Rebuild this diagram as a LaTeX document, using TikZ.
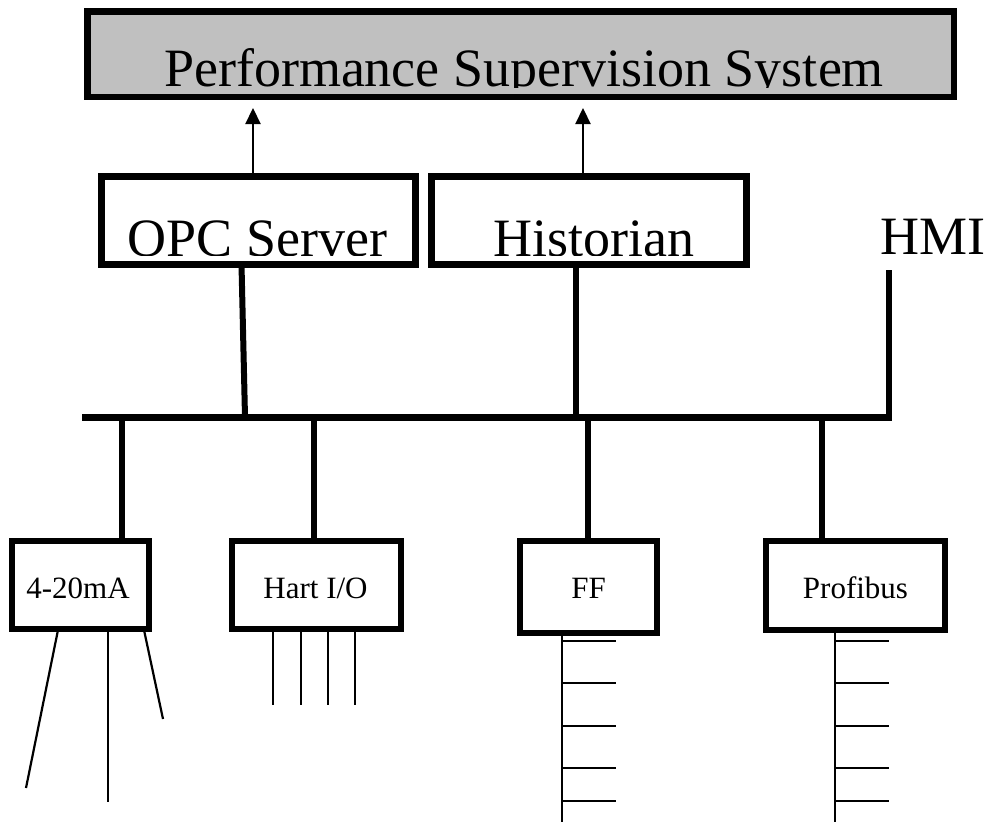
\documentclass[tikz,border=0pt]{standalone}
\usepackage{fontspec}
\setmainfont{Liberation Serif}
\usetikzlibrary{arrows.meta}
\definecolor{panelgrey}{RGB}{192,192,192}
\begin{document}
\begin{tikzpicture}[x=1pt,y=-1pt,
  frame/.style={draw=black,fill=white,line width=7pt,inner sep=0pt,outer sep=0pt},
  smallframe/.style={frame,line width=6pt},
  bigtext/.style={font=\fontsize{54}{60}\selectfont,inner sep=0pt,anchor=base},
  smalltext/.style={font=\fontsize{31}{36}\selectfont,inner sep=0pt,anchor=base},
  bus/.style={line width=7pt},
  wire/.style={line width=6pt},
  lead/.style={line width=2.2pt},
  uplink/.style={line width=2.2pt,-{Triangle[length=16pt,width=15pt]}}
]
\useasboundingbox (0,0) rectangle (988,822);

% ---- bus and taps ----
\coordinate (busL) at (82,417);
\coordinate (busR) at (892,417);
\coordinate (tapOPC) at (245,417);
\coordinate (tapHist) at (576,417);
\coordinate (tapHMI) at (889,417);
\coordinate (hmiTop) at (889,270);
\coordinate (dropA) at (122,417);
\coordinate (dropB) at (314,417);
\coordinate (dropC) at (588,417);
\coordinate (dropD) at (822,417);
\coordinate (tipA) at (253,108);
\coordinate (tipB) at (583,108);

% ---- frames ----
\node[frame,fill=panelgrey,line width=6.5pt,minimum width=866.5pt,minimum height=85.5pt] (pss) at (520.5,54) {};
\node[frame,minimum width=314pt,minimum height=88pt] (opc) at (258.5,220.5) {};
\node[frame,minimum width=315pt,minimum height=88pt] (hist) at (589,220.5) {};

% ---- field side leads (under the frames) ----
\coordinate (maA) at (58,630);
\coordinate (maB) at (108,630);
\coordinate (maC) at (144,630);
\draw[lead] (maA) -- (26,788);
\draw[lead] (maB) -- (108,802);
\draw[lead] (maC) -- (163,719);
\foreach \x in {273,301,328,355} \draw[lead] (\x,630) -- (\x,705);
\draw[lead] (562,633) -- (562,822);
\draw[lead] (835,630) -- (835,822);
\foreach \y in {641,683,726,768,801} {
  \draw[lead] (562,\y) -- (616,\y);
  \draw[lead] (835,\y) -- (889,\y);
}

% ---- bottom frames ----
\node[smallframe,minimum width=137pt,minimum height=88pt] (ma) at (80.5,585) {};
\node[smallframe,minimum width=169pt,minimum height=88pt] (hart) at (316.5,585) {};
\node[smallframe,minimum width=137pt,minimum height=92pt] (ff) at (588.5,587) {};
\node[smallframe,minimum width=179pt,minimum height=89pt] (pb) at (855.5,585.5) {};

% ---- connectors ----
\draw[uplink] (opc.north -| tipA) -- (tipA);
\draw[uplink] (hist.north -| tipB) -- (tipB);
\draw[wire] ([xshift=-17pt]opc.south) -- (tapOPC);
\draw[wire] (hist.south -| tapHist) -- (tapHist);
\draw[wire] (hmiTop) -- (tapHMI);
\draw[bus] (busL) -- (busR);
\draw[wire] (dropA) -- (ma.north -| dropA);
\draw[wire] (dropB) -- (hart.north -| dropB);
\draw[wire] (dropC) -- (ff.north -| dropC);
\draw[wire] (dropD) -- (pb.north -| dropD);

% ---- labels (text cut off at its baseline) ----
\begin{scope}
  \clip (0,0) rectangle (988,87);
  \node[bigtext] (psslabel) at (524,86) {Performance Supervision System};
\end{scope}
\begin{scope}
  \clip (0,150) rectangle (988,255);
  \node[bigtext] (opclabel) at (257.5,256) {OPC Server};
  \node[bigtext] (histlabel) at (594,256) {Historian};
\end{scope}
\node[bigtext] (hmi) at (932.5,254) {HMI};

\node[smalltext] (malabel) at (78,598) {4-20mA};
\node[smalltext] (hartlabel) at (315.5,598) {Hart I/O};
\node[smalltext] (fflabel) at (588.5,598) {FF};
\node[smalltext] (pblabel) at (855.5,598) {Profibus};
\end{tikzpicture}
\end{document}
